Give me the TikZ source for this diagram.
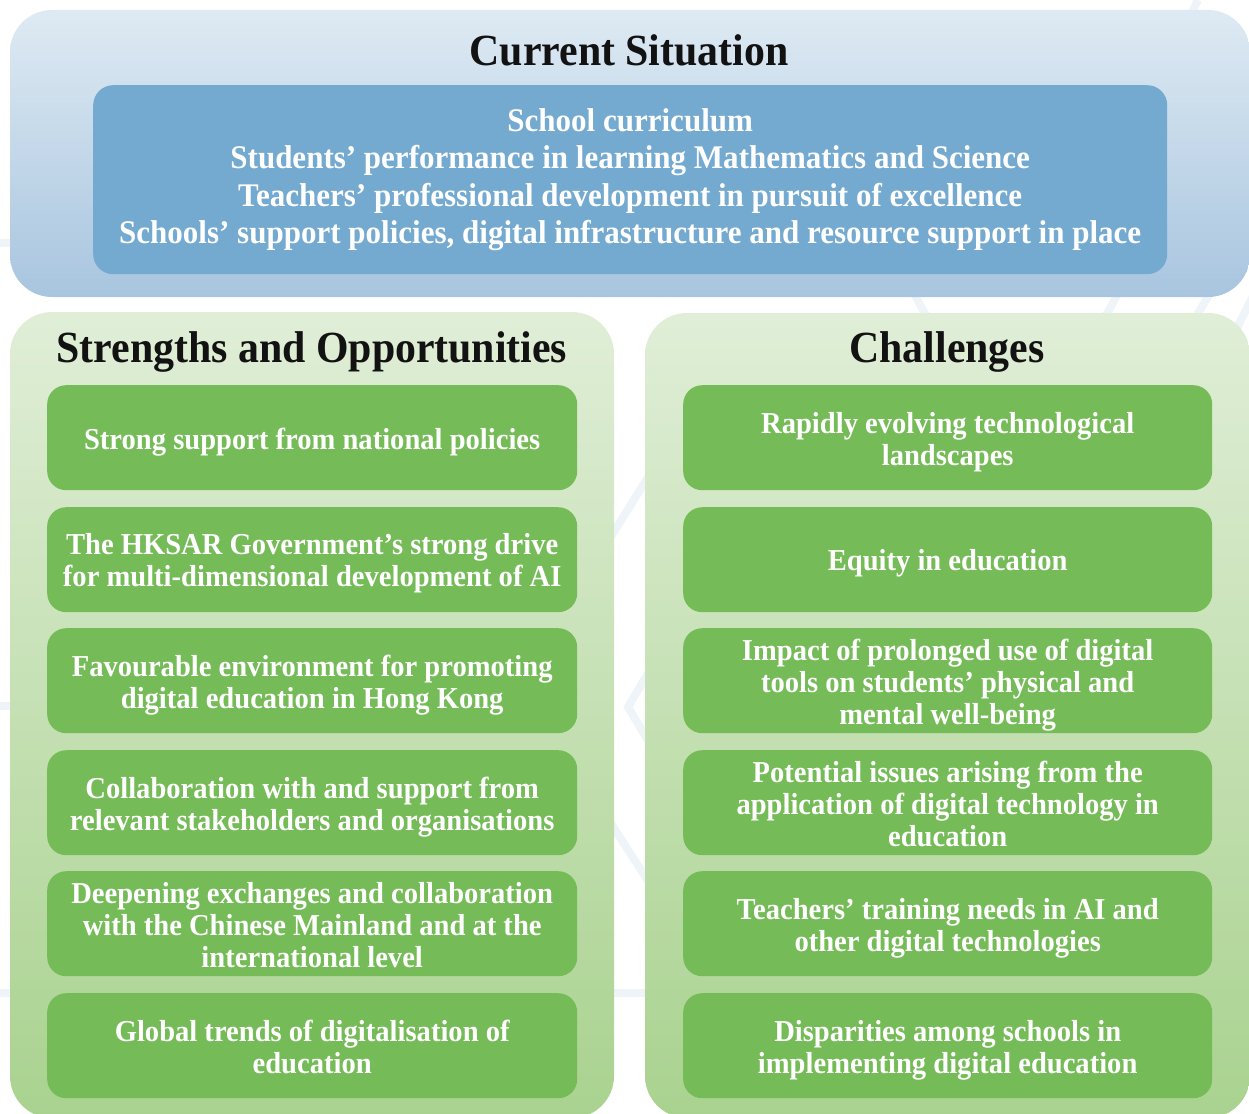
\documentclass[tikz,border=0pt]{standalone}
\usepackage{fontspec}
\setmainfont{Liberation Serif}[FakeStretch=0.94]
\definecolor{skyTop}{HTML}{DEEAF3}
\definecolor{skyBot}{HTML}{A8C5DF}
\definecolor{skyBox}{HTML}{74A9D0}
\definecolor{leafTop}{HTML}{E0EED7}
\definecolor{leafBot}{HTML}{A9D28F}
\definecolor{leafBox}{HTML}{75BB57}
\definecolor{mark}{HTML}{EFF4F9}
\begin{document}
\begin{tikzpicture}[x=1pt,y=1pt,
  wm/.style={draw=mark,line width=8pt},
  panel/.style={draw=none,inner sep=0pt,outer sep=0pt,anchor=north west,rounded corners=42pt},
  bluepanel/.style={panel,top color=skyTop,bottom color=skyBot},
  greenpanel/.style={panel,top color=leafTop,bottom color=leafBot},
  cbox/.style={draw=none,fill=skyBox,inner sep=0pt,anchor=north west,rounded corners=20pt,
    minimum width=1074pt,minimum height=189pt,align=center,text=white,
    font=\bfseries\fontsize{33}{37.5}\selectfont},
  gbox/.style={draw=none,fill=leafBox,inner sep=0pt,anchor=north west,rounded corners=19pt,
    minimum width=530pt,minimum height=105pt},
  gtext/.style={inner sep=0pt,align=center,text=white,
    font=\bfseries\fontsize{30.4}{32}\selectfont},
  head/.style={anchor=base,inner sep=0pt,text=black!93,font=\bfseries\fontsize{44.5}{48}\selectfont}]
\useasboundingbox (0,0) rectangle (1249,-1113);

% faint background pattern
\draw[wm] (0,-243) -- (1249,-243);
\draw[wm] (0,-706) -- (300,-706);
\draw[wm] (0,-993) -- (648,-993);
\draw[wm] (650,-670) -- (628,-707) -- (650,-744);
\draw[wm] (650,-474) -- (610,-538);
\draw[wm] (610,-822) -- (650,-884);
\draw[wm] (1198,0) -- (1178,-40);
\draw[wm] (912,-290) -- (934,-330);
\draw[wm] (1120,-290) -- (1098,-330);
\draw[wm] (1212,-290) -- (1188,-330);
\draw[wm] (1256,-290) -- (1236,-330);

% panels
\node[bluepanel,minimum width=1240pt,minimum height=287pt] (cur) at (10,-10) {};
\node[greenpanel,minimum width=604pt,minimum height=806pt] (str) at (10,-312) {};
\node[greenpanel,minimum width=605pt,minimum height=805pt] (cha) at (645,-313) {};

% headings
\node[head] (curT) at (629,-66) {Current Situation};
\node[head] (strT) at (312,-362) {Strengths and Opportunities};
\node[head] (chaT) at (947,-362) {Challenges};

% current situation
\node[cbox] (cs) at (93,-85) {School curriculum\\
Students’ performance in learning Mathematics and Science\\
Teachers’ professional development in pursuit of excellence\\
Schools’ support policies, digital infrastructure and resource support in place};

% item boxes of both columns
\foreach \i/\y in {1/385,2/507,3/628,4/750,5/871,6/993}{
  \node[gbox] (s\i) at (47,-\y) {};
  \node[gbox,minimum width=529pt] (c\i) at (683,-\y) {};
}

% strengths and opportunities
\node[gtext] (s1t) at ([yshift=-4.5pt]s1.center) {Strong support from national policies};
\node[gtext] (s2t) at ([yshift=-3.5pt]s2.center) {The HKSAR Government’s strong drive\\for multi-dimensional development of AI};
\node[gtext] (s3t) at ([yshift=-4.5pt]s3.center) {Favourable environment for promoting\\digital education in Hong Kong};
\node[gtext] (s4t) at ([yshift=-4.5pt]s4.center) {Collaboration with and support from\\relevant stakeholders and organisations};
\node[gtext] (s5t) at ([yshift=-1.2pt]s5.center) {Deepening exchanges and collaboration\\with the Chinese Mainland and at the\\international level};
\node[gtext] (s6t) at ([yshift=-1.5pt]s6.center) {Global trends of digitalisation of\\education};

% challenges
\node[gtext] (c1t) at ([yshift=-4.5pt]c1.center) {Rapidly evolving technological\\landscapes};
\node[gtext] (c2t) at ([yshift=-4pt]c2.center) {Equity in education};
\node[gtext] (c3t) at ([yshift=-4.5pt]c3.center) {Impact of prolonged use of digital\\tools on students’ physical and\\mental well-being};
\node[gtext] (c4t) at ([yshift=-0.8pt]c4.center) {Potential issues arising from the\\application of digital technology in\\education};
\node[gtext] (c5t) at ([yshift=-4.5pt]c5.center) {Teachers’ training needs in AI and\\other digital technologies};
\node[gtext] (c6t) at ([yshift=-4.5pt]c6.center) {Disparities among schools in\\implementing digital education};
\end{tikzpicture}
\end{document}
